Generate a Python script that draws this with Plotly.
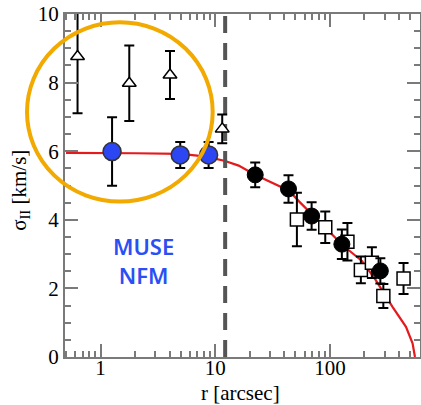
import plotly.graph_objects as go

# ---- data ----
tri_r = [0.63, 1.78, 4.03, 11.5]
tri_s = [8.76, 7.98, 8.22, 6.65]
tri_e = [1.65, 1.10, 0.70, 0.42]

muse_r = [1.26, 4.95, 8.75]
muse_s = [5.99, 5.89, 5.89]
muse_e = [1.00, 0.38, 0.38]

blk_r = [22.3, 43.5, 69.2, 127, 275]
blk_s = [5.31, 4.90, 4.11, 3.29, 2.51]
blk_e = [0.36, 0.40, 0.40, 0.43, 0.37]

sq_r = [51.5, 91, 142, 186, 232, 292, 438]
sq_s = [4.01, 3.78, 3.36, 2.54, 2.75, 1.78, 2.29]
sq_e = [0.78, 0.46, 0.55, 0.39, 0.45, 0.35, 0.45]

model_r = [0.5, 1, 2, 5, 8, 12, 16, 22, 30, 44, 54, 70, 100, 130, 190, 250, 350, 460, 525, 551]
model_s = [5.95, 5.95, 5.94, 5.92, 5.85, 5.72, 5.58, 5.32, 5.10, 4.85, 4.53, 4.15, 3.65, 3.25, 2.80, 2.25, 1.47, 0.88, 0.40, 0.0]

dash_r = 12.2
y_span = [0, 10]

x_major = [1, 10, 100]
x_major_text = ["1", "10", "100"]
x_minor = [0.5, 0.6, 0.7, 0.8, 0.9, 2, 3, 4, 5, 6, 7, 8, 9,
           20, 30, 40, 50, 60, 70, 80, 90, 200, 300, 400, 500, 600]
y_major = [0, 2, 4, 6, 8, 10]

serif = "Liberation Serif, Times New Roman, DejaVu Serif, serif"
frame = "#7a7a7a"

fig = go.Figure()

fig.add_trace(go.Scatter(x=model_r, y=model_s, mode="lines",
                         line=dict(color="#e41a1c", width=2.2), hoverinfo="skip"))
fig.add_trace(go.Scatter(x=[dash_r, dash_r], y=y_span, mode="lines",
                         line=dict(color="#555555", width=4, dash="17px,10px")))

err = lambda e: dict(type="data", array=e, symmetric=True, color="black",
                     thickness=2, width=5)

fig.add_trace(go.Scatter(x=tri_r, y=tri_s, mode="markers", error_y=err(tri_e),
                         marker=dict(symbol="triangle-up", size=12, color="white",
                                     line=dict(color="black", width=1.5))))
fig.add_trace(go.Scatter(x=sq_r, y=sq_s, mode="markers", error_y=err(sq_e),
                         marker=dict(symbol="square", size=13, color="white",
                                     line=dict(color="black", width=1.5))))
fig.add_trace(go.Scatter(x=blk_r, y=blk_s, mode="markers", error_y=err(blk_e),
                         marker=dict(symbol="circle", size=16, color="black",
                                     line=dict(color="black", width=1))))
fig.add_trace(go.Scatter(x=muse_r, y=muse_s, mode="markers", error_y=err(muse_e),
                         marker=dict(symbol="circle", size=18, color="#2b46f2",
                                     line=dict(color="#333333", width=1.5))))

fig.add_shape(type="circle", xref="paper", yref="paper",
              x0=-0.107, x1=0.416, y0=0.453, y1=0.976,
              line=dict(color="#f2a900", width=4), layer="above")

fig.add_annotation(xref="paper", yref="paper", x=0.2225, y=0.281,
                   xanchor="center", yanchor="middle",
                   text="MUSE<br>NFM", showarrow=False,
                   font=dict(family="Noto Sans", size=22, color="#2b4ff5", weight=600))

# axis titles
fig.add_annotation(xref="paper", yref="paper", x=0.493, y=-0.105,
                   xanchor="center", yanchor="middle",
                   text="r [arcsec]", showarrow=False,
                   font=dict(family=serif, size=21, color="black"))
fig.add_annotation(xref="paper", yref="paper", x=-0.127, y=0.487,
                   xanchor="center", yanchor="middle",
                   text="σ<sub>II</sub> [km/s]", showarrow=False, textangle=-90,
                   font=dict(family=serif, size=21, color="black"))

fig.update_layout(
    width=421, height=405,
    margin=dict(l=65, r=1, t=14, b=48),
    plot_bgcolor="white", paper_bgcolor="white",
    showlegend=False,
    font=dict(family=serif, size=20, color="black"),
)
fig.update_xaxes(
    type="log", range=[-0.31, 2.785], automargin=False,
    tickmode="array", tickvals=x_major, ticktext=x_major_text,
    ticks="inside", ticklen=13, tickwidth=1.5, tickcolor=frame,
    minor=dict(tickmode="array", tickvals=x_minor, ticks="inside",
               ticklen=6, tickwidth=1.5, tickcolor=frame),
    showline=True, linecolor=frame, linewidth=2, mirror="ticks",
    showgrid=False, zeroline=False,
    tickfont=dict(family=serif, size=21), ticklabelstandoff=-9,
)
fig.update_yaxes(
    range=[0, 10], automargin=False,
    tickmode="array", tickvals=y_major,
    ticks="inside", ticklen=13, tickwidth=1.5, tickcolor=frame,
    minor=dict(dtick=0.5, ticks="inside", ticklen=6, tickwidth=1.5, tickcolor=frame),
    showline=True, linecolor=frame, linewidth=2, mirror="ticks",
    showgrid=False, zeroline=False,
    tickfont=dict(family=serif, size=21), ticklabelstandoff=0,
)

fig.write_html("out.html", config={"displayModeBar": False},
               post_script="document.body.style.margin='0';document.body.style.overflow='hidden';")
